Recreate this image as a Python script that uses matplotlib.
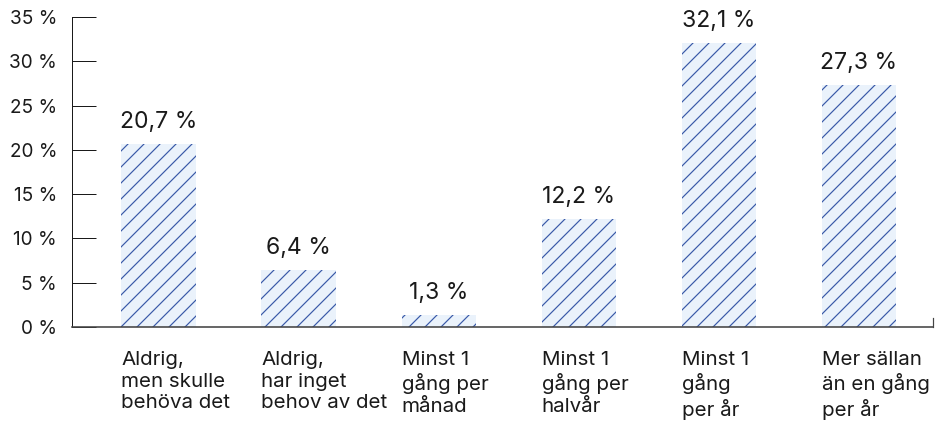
import matplotlib
matplotlib.use("Agg")
import matplotlib.pyplot as plt

# data
kategorier = [
    "Aldrig,\nmen skulle\nbehöva det",
    "Aldrig,\nhar inget\nbehov av det",
    "Minst 1\ngång per\nmånad",
    "Minst 1\ngång per\nhalvår",
    "Minst 1\ngång\nper år",
    "Mer sällan\nän en gång\nper år",
]
andel = [20.7, 6.4, 1.3, 12.2, 32.1, 27.3]
y_ticks = [0, 5, 10, 15, 20, 25, 30, 35]

TEXT = "#1a1a1a"
FILL = "#eaf2fb"
HATCH = "#3a5aa8"

plt.rcParams["font.family"] = ["Inter", "DejaVu Sans"]
plt.rcParams["hatch.linewidth"] = 0.9

# 96 dpi -> hatch '//' gives ~16 px spacing like the original
DPI = 96
fig = plt.figure(figsize=(942 / DPI, 427 / DPI), dpi=DPI)
ax = fig.add_axes([72 / 942, 100 / 427, 861 / 942, 310 / 427])

x = range(len(andel))
bredd = 0.53
ax.bar(x, andel, width=bredd, color=FILL, edgecolor=HATCH, linewidth=0, hatch="//")

# värden ovanför staplarna
for i, v in enumerate(andel):
    ax.annotate(f"{v:.1f} %".replace(".", ","), xy=(i, v), xytext=(0, 12),
                textcoords="offset points", ha="center", va="baseline",
                fontsize=17.25, color=TEXT)

# kategorietiketter, vänsterställda mot stapeln
for i, lab in enumerate(kategorier):
    ax.annotate(lab, xy=(i - bredd / 2, 0), xytext=(0, -18),
                textcoords="offset points", ha="left", va="top",
                fontsize=15.4, color=TEXT, linespacing=1.26)

ax.set_xlim(-0.617, 5.528)
ax.set_ylim(0, 35)
ax.set_xticks([])
ax.set_yticks(y_ticks)
ax.set_yticklabels([f"{t} %" for t in y_ticks])
ax.tick_params(axis="y", direction="in", length=18, width=0.75, pad=11.25,
               labelsize=14.25, labelcolor=TEXT, color=TEXT)

ax.spines["top"].set_visible(False)
ax.spines["left"].set_color(TEXT)
ax.spines["left"].set_linewidth(0.75)
ax.spines["bottom"].set_color("#444444")
ax.spines["bottom"].set_linewidth(1.2)
ax.spines["right"].set_bounds(0, 1)
ax.spines["right"].set_color("#444444")
ax.spines["right"].set_linewidth(0.9)

fig.savefig("out.png", dpi=DPI)
